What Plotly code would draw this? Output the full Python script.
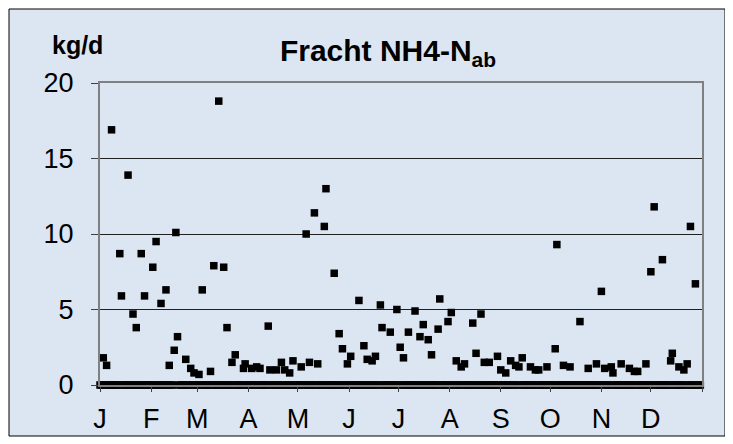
import datetime as dt
import plotly.graph_objects as go

# Day-of-year (0 = 1 Jan) of the days with a non-zero load; all other days are 0
load_days = [2, 4, 7, 12, 13, 17, 20, 22, 25, 27, 32, 34, 37, 40, 42, 45, 46, 47, 52, 55,
             57, 60, 62, 67, 69, 72, 75, 77, 80, 82, 87, 88, 92, 95, 97, 102, 103, 107, 110, 112,
             115, 117, 122, 125, 127, 130, 132, 136, 137, 142, 145, 147, 150, 152, 157, 160, 162, 165, 167, 170,
             171, 176, 180, 182, 184, 187, 191, 194, 196, 199, 201, 205, 206, 211, 213, 216, 219, 221, 226, 228,
             231, 233, 236, 241, 243, 246, 249, 252, 254, 256, 261, 264, 266, 271, 276, 277, 281, 285, 291, 296,
             301, 304, 306, 310, 311, 316, 321, 324, 326, 331, 334, 336, 341, 346, 347, 351, 354, 356, 358, 361]
load_values = [1.8, 1.3, 16.9, 8.7, 5.9, 13.9, 4.7, 3.8, 8.7, 5.9, 7.8, 9.5, 5.4, 6.3, 1.3, 2.3, 10.1, 3.2, 1.7, 1.1,
               0.8, 0.7, 6.3, 0.9, 7.9, 18.8, 7.8, 3.8, 1.5, 2.0, 1.1, 1.4, 1.1, 1.2, 1.1, 3.9, 1.0, 1.0, 1.5, 1.0,
               0.8, 1.6, 1.2, 10.0, 1.5, 11.4, 1.4, 10.5, 13.0, 7.4, 3.4, 2.4, 1.4, 1.9, 5.6, 2.6, 1.7, 1.6, 1.9, 5.3,
               3.8, 3.5, 5.0, 2.5, 1.8, 3.5, 4.9, 3.2, 4.0, 3.0, 2.0, 3.7, 5.7, 4.2, 4.8, 1.6, 1.2, 1.4, 4.1, 2.1,
               4.7, 1.5, 1.5, 1.9, 1.0, 0.8, 1.6, 1.3, 1.2, 1.8, 1.2, 1.0, 1.0, 1.2, 2.4, 9.3, 1.3, 1.2, 4.2, 1.1,
               1.4, 6.2, 1.1, 1.2, 0.8, 1.4, 1.1, 0.9, 0.9, 1.4, 7.5, 11.8, 8.3, 1.6, 2.1, 1.2, 1.0, 1.4, 10.5, 6.7]

month_labels = ["J", "F", "M", "A", "M", "J", "J", "A", "S", "O", "N", "D", ""]
y_ticks = [0, 5, 10, 15, 20]

year = 2009
start = dt.date(year, 1, 1)
dates = [start + dt.timedelta(days=i) for i in range(365)]
values = [0.0] * 365
for d, v in zip(load_days, load_values):
    values[d] = v

month_starts = [dt.date(year, m, 1) for m in range(1, 13)] + [dt.date(year + 1, 1, 1)]

FONT = "Liberation Sans, Arial, sans-serif"

# The page body has an 8px margin, so figure coords = screen coords - 8
OFF = 8
W, H = 733, 444
L, T = 100 - OFF, 83 - OFF
R = W - (702 - OFF)
B = H - (385 - OFF)
pw, ph = W - L - R, H - T - B

def sx(px):
    return (px - OFF - L) / pw

def sy(py):
    return (H - B - (py - OFF)) / ph

fig = go.Figure()
fig.add_trace(go.Scatter(
    x=dates, y=values, mode="markers",
    marker=dict(symbol="square", size=7.5, color="black", line=dict(width=0)),
    cliponaxis=False, showlegend=False, hoverinfo="x+y",
))

fig.add_shape(type="rect", xref="paper", yref="paper", layer="below",
              x0=sx(9), x1=sx(725), y0=sy(436), y1=sy(9),
              fillcolor="#DCE6F2", line=dict(color="black", width=1))

fig.update_layout(
    width=W, height=H,
    margin=dict(l=L, r=R, t=T, b=B, pad=0),
    paper_bgcolor="white",
    plot_bgcolor="#66FFFF",
    font=dict(family=FONT, size=27, color="black"),
    title=dict(text="<b>Fracht NH4-N<sub>ab</sub></b>", x=sx(388), xref="paper",
               xanchor="center", y=1 - (50 - OFF) / H, yanchor="middle",
               font=dict(family=FONT, size=30, color="black")),
    annotations=[dict(text="<b>kg/d</b>", xref="paper", yref="paper",
                      x=sx(77), y=sy(45), xanchor="center", yanchor="middle",
                      showarrow=False, font=dict(family=FONT, size=25, color="black"))],
    xaxis=dict(
        range=[start, dt.date(year + 1, 1, 1)],
        tickmode="array", tickvals=month_starts, ticktext=month_labels,
        ticks="outside", ticklen=5, tickcolor="#404040", tickwidth=1,
        ticklabelstandoff=4,
        showgrid=False, zeroline=False,
        showline=True, linecolor="#808080", linewidth=2, mirror=True,
        tickfont=dict(family=FONT, size=27, color="black"),
    ),
    yaxis=dict(
        range=[0, 20], tickmode="array", tickvals=y_ticks,
        ticks="outside", ticklen=7, tickcolor="#404040", tickwidth=1,
        ticklabelstandoff=12,
        showgrid=True, gridcolor="#202020", gridwidth=1,
        zeroline=False,
        showline=True, linecolor="#808080", linewidth=2, mirror=True,
        tickfont=dict(family=FONT, size=27, color="black"),
    ),
)

fig.write_html("out.html")
